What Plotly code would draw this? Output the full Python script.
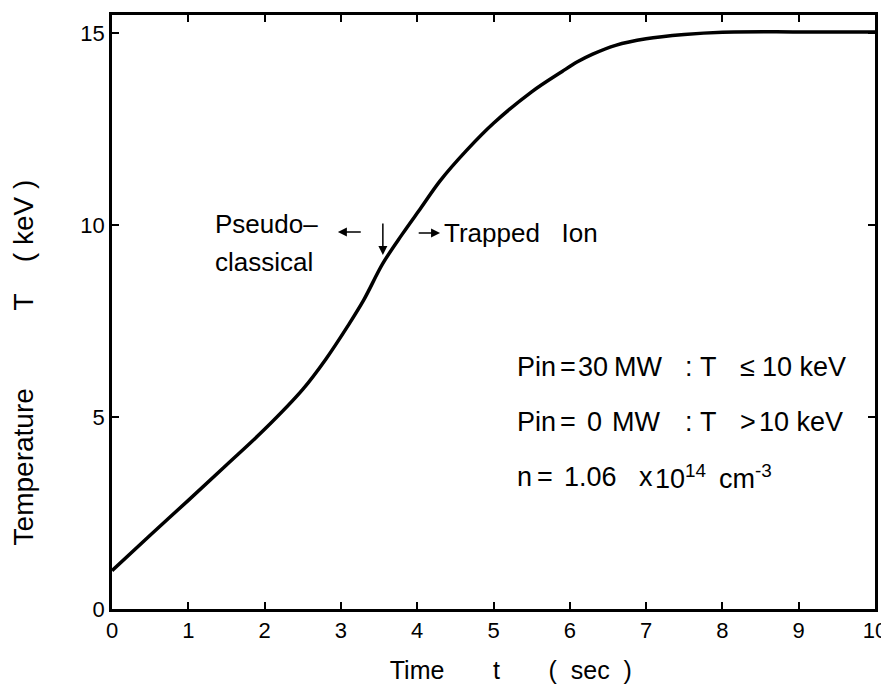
import plotly.graph_objects as go

time_s = [0, 0.5, 1, 1.5, 2, 2.5, 2.8, 3.1, 3.3, 3.55, 3.8, 4.05, 4.3, 4.65, 5.0, 5.5, 5.9, 6.1, 6.3, 6.6, 7.0, 7.5, 8.0, 9.0, 10.0]
temp_kev = [1.0, 1.92, 2.83, 3.75, 4.68, 5.72, 6.5, 7.4, 8.05, 9.0, 9.75, 10.45, 11.15, 11.95, 12.65, 13.47, 14.0, 14.25, 14.45, 14.68, 14.85, 14.96, 15.02, 15.03, 15.03]

x_ticks = [0, 1, 2, 3, 4, 5, 6, 7, 8, 9, 10]
y_ticks = [0, 5, 10, 15]

FONT = "Liberation Sans"
NB = "&nbsp;"

fig = go.Figure()
fig.add_trace(go.Scatter(x=time_s, y=temp_kev, mode="lines",
                         line=dict(color="black", width=3.5, shape="spline", smoothing=1.0),
                         showlegend=False, hoverinfo="skip"))

axis_common = dict(showgrid=False, zeroline=False, showline=True, linecolor="black", linewidth=2.5,
                   mirror="ticks", ticks="inside", ticklen=7, tickwidth=1.5, tickcolor="black",
                   automargin=False,
                   tickfont=dict(family=FONT, size=22, color="black"))

x_title = NB * 5 + "Time" + NB * 7 + "t" + NB * 7 + "(" + NB * 2 + "sec" + NB * 2 + ")"
y_title = "Temperature" + NB * 10 + "T" + NB * 4 + "( keV )" + NB * 13

fig.update_xaxes(range=[0, 10], tickvals=x_ticks, ticktext=[str(v) for v in x_ticks],
                 title=dict(text=x_title, font=dict(family=FONT, size=25, color="black"), standoff=20),
                 **axis_common)
fig.update_yaxes(range=[0, 15.47], tickvals=y_ticks, ticktext=[str(v) for v in y_ticks],
                 title=dict(text=y_title, font=dict(family=FONT, size=28, color="black"), standoff=40),
                 **axis_common)

tf = dict(family=FONT, size=26, color="black")
tf2 = dict(family=FONT, size=27, color="black")

# labels near the curve
for x, y, t in [(1.32, 10.03, "Pseudo\u2013"), (1.32, 9.04, "classical"),
                (4.33, 9.79, "Trapped" + NB * 3 + "Ion")]:
    fig.add_annotation(x=x, y=y, text=t, showarrow=False, xanchor="left", yanchor="middle", font=tf)

# condition lines, each word placed on its own
line_tokens = [
    (6.30, [(5.28, "Pin"), (5.84, "="), (6.08, "30"), (6.55, "MW"), (7.48, ":"),
            (7.68, "T"), (8.20, "\u2264"), (8.49, "10 keV")]),
    (4.87, [(5.28, "Pin"), (5.84, "="), (6.20, "0"), (6.53, "MW"), (7.48, ":"),
            (7.68, "T"), (8.20, ">"), (8.45, "10 keV")]),
    (3.44, [(5.28, "n"), (5.54, "="), (5.90, "1.06"), (6.88, "x"),
            (7.09, "10<sup>14</sup>"), (7.93, "cm<sup>-3</sup>")]),
]
for y, tokens in line_tokens:
    for x, t in tokens:
        fig.add_annotation(x=x, y=y, text=t, showarrow=False, xanchor="left", yanchor="middle", font=tf2)

arrows = [
    (2.96, 9.82, 3.28, 9.82),
    (3.55, 9.22, 3.55, 10.08),
    (4.30, 9.79, 4.00, 9.79),
]
for hx, hy, tx, ty in arrows:
    fig.add_annotation(x=hx, y=hy, ax=tx, ay=ty, xref="x", yref="y", axref="x", ayref="y",
                       text="", showarrow=True, arrowhead=2, arrowsize=1.2, arrowwidth=1.5,
                       arrowcolor="black")

# the page body adds an 8 px margin at left/top, so the figure is made 8 px smaller
fig.update_layout(width=881, height=682, margin=dict(l=104, r=14, t=7, b=81),
                  paper_bgcolor="white", plot_bgcolor="white")

fig.write_html("out.html")
